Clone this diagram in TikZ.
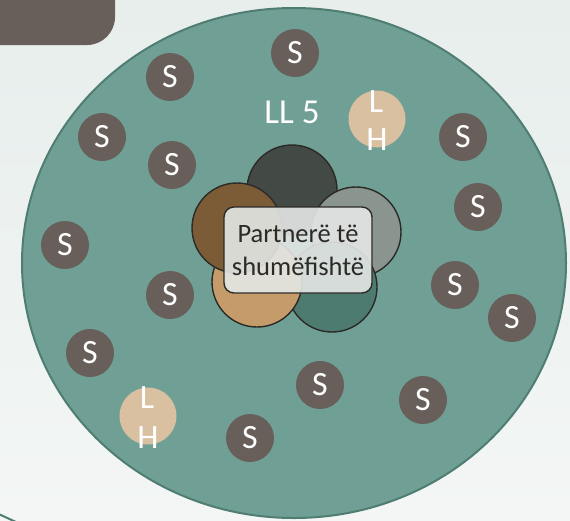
\documentclass[tikz,border=0pt]{standalone}
\usepackage{fontspec}
\setmainfont{Carlito}
\usetikzlibrary{positioning,shapes.geometric}
\definecolor{bgtop}{HTML}{E7EEEC}
\definecolor{bgbot}{HTML}{F3F6F5}
\definecolor{taupe}{HTML}{685F5A}
\definecolor{seafill}{HTML}{70A095}
\definecolor{seaedge}{HTML}{4F7D72}
\definecolor{sand}{HTML}{D9C0A1}
\definecolor{petalA}{HTML}{434A45}
\definecolor{petalB}{HTML}{8A958F}
\definecolor{petalC}{HTML}{4E7B70}
\definecolor{petalD}{HTML}{C59C69}
\definecolor{petalE}{HTML}{7C5C37}
\definecolor{ink}{HTML}{2B2A27}
\definecolor{boxfill}{HTML}{E4E7E5}

\begin{document}
\begin{tikzpicture}[x=1pt,y=-1pt,line cap=round,line join=round,
    scircle/.style={circle,fill=taupe,minimum size=48pt,inner sep=0pt,text=white,
      font=\fontsize{34}{34}\selectfont},
    lhcircle/.style={circle,fill=sand,minimum size=57pt,inner sep=0pt},
    lhletter/.style={text=white,inner sep=0pt,font=\fontsize{34}{34}\selectfont},
    petal/.style={circle,draw=ink,line width=1.4pt,minimum size=90pt,inner sep=0pt}]
    % background
    \shade[top color=bgtop,bottom color=bgbot] (0,0) rectangle (570,520);
    \useasboundingbox (0,0) rectangle (570,520);
    \fill[taupe,rounded corners=28pt] (-40,-40) rectangle (115,45);
    \begin{scope}
      \clip (0,0) rectangle (570,520);
      \draw[seaedge,line width=2pt] (-10,510) -- (16,522);
    \end{scope}
    % big circle
    \node[ellipse,fill=seafill,draw=seaedge,line width=2pt,minimum width=544pt,
      minimum height=510pt,inner sep=0pt] (ring) at (294,263) {};
    % S circles
    \node[scircle] (s1) at (295,53) {S};
    \node[scircle] (s2) at (170,77) {S};
    \node[scircle] (s3) at (102,137) {S};
    \node[scircle] (s4) at (172,165) {S};
    \node[scircle] (s5) at (463,137) {S};
    \node[scircle] (s6) at (478,207) {S};
    \node[scircle] (s7) at (65,245) {S};
    \node[scircle] (s8) at (170,295) {S};
    \node[scircle] (s9) at (455,285) {S};
    \node[scircle] (s10) at (512,318) {S};
    \node[scircle] (s11) at (90,353) {S};
    \node[scircle] (s12) at (320,385) {S};
    \node[scircle] (s13) at (423,400) {S};
    \node[scircle] (s14) at (250,438) {S};
    % L H circles
    \node[lhcircle] (lh1) at (377,119) {};
    \node[lhletter] (lh1l) at (376,102) {L};
    \node[lhletter] (lh1h) at (377,140) {H};
    \node[lhcircle] (lh2) at (148,416) {};
    \node[lhletter] (lh2l) at (147,398) {L};
    \node[lhletter] (lh2h) at (148,438) {H};
    \node[text=white,inner sep=0pt,font=\fontsize{35}{35}\selectfont] (title) at (292,112) {LL 5};
    % flower
    \node[petal,fill=petalA] (p1) at (292,190) {};
    \node[petal,fill=petalB] (p2) at (356,232) {};
    \node[petal,fill=petalC] (p3) at (332,287) {};
    \node[petal,fill=petalD] (p4) at (257,282) {};
    \node[petal,fill=petalE] (p5) at (237,228) {};
    \node[draw=ink,line width=1.4pt,fill=boxfill,fill opacity=0.9,text opacity=1,
      rounded corners=10pt,minimum width=148pt,minimum height=86pt,align=center,
      text=ink,font=\fontsize{26.5}{33}\selectfont] (hub) at (298,250)
      {Partnerë të\\shumëfishtë};
\end{tikzpicture}
\end{document}
